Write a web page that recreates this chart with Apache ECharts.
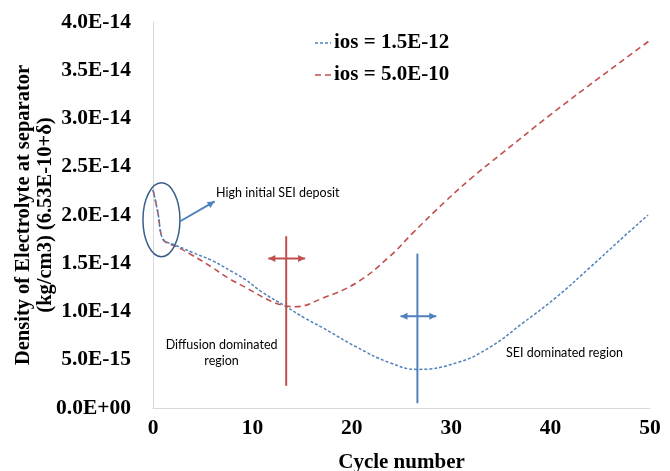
<!DOCTYPE html>
<html><head><meta charset="utf-8">
<script src="https://cdn.jsdelivr.net/npm/echarts@6/dist/echarts.min.js"></script>
<style>html,body{margin:0;padding:0;background:#fff}#c{width:670px;height:471px}</style>
</head><body><div id="c"></div>
<script>
// Density values are in units of 1E-15 kg/cm3
const cyclesBlue  = [0, 0.5, 0.9, 1.4, 2.2, 4, 5.9, 8, 9.3, 11, 13.4, 15.3, 17.1, 20.5, 23.8, 26.6, 30.6, 33.9, 37.2, 40.6, 44, 47.3, 49.8];
const densityBlue = [22.6, 20.2, 17.7, 17.2, 16.9, 16.1, 15.3, 14.1, 13.3, 12.0, 10.5, 9.3, 8.3, 6.3, 4.7, 4.0, 4.7, 6.3, 8.8, 11.5, 14.6, 17.7, 20.0];
const cyclesRed   = [0, 0.5, 0.9, 1.4, 2.2, 4, 5.9, 7.5, 9.3, 12, 13.3, 14.3, 17.1, 20.5, 23.8, 26.2, 29.4, 32, 35, 40, 45, 50];
const densityRed  = [22.6, 20.2, 17.7, 17.1, 16.8, 15.8, 14.6, 13.5, 12.5, 11.0, 10.6, 10.5, 11.4, 13.0, 15.7, 18.2, 21.4, 23.8, 26.3, 30.4, 34.3, 38.1];
const seriesNames = ['ios = 1.5E-12', 'ios = 5.0E-10'];
const yTickLabels = ['0.0E+00','5.0E-15','1.0E-14','1.5E-14','2.0E-14','2.5E-14','3.0E-14','3.5E-14','4.0E-14'];
const xTickLabels = ['0','10','20','30','40','50'];

const BLUE = '#4f81bd', RED = '#c0504d', AXIS = '#d9d9d9';
const chart = echarts.init(document.getElementById('c'), null, {renderer:'canvas'});
const boldSerif = {fontFamily:'Liberation Serif', fontWeight:'bold', color:'#000'};

chart.setOption({
  animation:false,
  backgroundColor:'#fff',
  grid:{left:153, right:20, top:22, bottom:63, containLabel:false, outerBoundsMode:'none'},
  xAxis:{
    type:'value', min:0, max:50, interval:10,
    axisLine:{show:true, lineStyle:{color:AXIS, width:1}},
    axisTick:{show:false}, splitLine:{show:false},
    axisLabel:Object.assign({fontSize:21.5, margin:9, formatter:v=>xTickLabels[Math.round(v/10)]}, boldSerif),
    name:'Cycle number', nameLocation:'middle', nameGap:44, nameMoveOverlap:false,
    nameTextStyle:Object.assign({fontSize:21}, boldSerif)
  },
  yAxis:{
    type:'value', min:0, max:40, interval:5,
    axisLine:{show:true, lineStyle:{color:AXIS, width:1}},
    axisTick:{show:false}, splitLine:{show:false},
    axisLabel:Object.assign({fontSize:21.5, margin:22, formatter:v=>yTickLabels[Math.round(v/5)]}, boldSerif),
    name:'Density of Electrolyte at separator\n(kg/cm3) (6.53E-10+δ)', nameLocation:'middle', nameGap:96, nameMoveOverlap:false,
    nameTextStyle:Object.assign({fontSize:20.5, lineHeight:22}, boldSerif)
  },
  series:[
    {name:seriesNames[0], type:'line', smooth:0.45, showSymbol:false,
     data:cyclesBlue.map((c,i)=>[c, densityBlue[i]]),
     lineStyle:{color:BLUE, width:1.5, type:[3,2]}, itemStyle:{color:BLUE}, z:3},
    {name:seriesNames[1], type:'line', smooth:0.45, showSymbol:false,
     data:cyclesRed.map((c,i)=>[c, densityRed[i]]),
     lineStyle:{color:RED, width:1.6, type:[6,4]}, itemStyle:{color:RED}, z:2}
  ]
});

// Annotations anchored in data coordinates
const P = (x,y) => chart.convertToPixel({gridIndex:0},[x,y]);
function head(tip, from, color){
  const dx = tip[0]-from[0], dy = tip[1]-from[1], L = Math.hypot(dx,dy);
  const ux = dx/L, uy = dy/L, len = 7, hw = 3.5;
  const bx = tip[0]-ux*len, by = tip[1]-uy*len;
  return {type:'polygon', shape:{points:[tip,[bx-uy*hw, by+ux*hw],[bx+uy*hw, by-ux*hw]]}, style:{fill:color}, z:10};
}
function arrow(a, b, color, both){
  const els = [{type:'line', shape:{x1:a[0],y1:a[1],x2:b[0],y2:b[1]}, style:{stroke:color, lineWidth:2}, z:10}, head(b,a,color)];
  if (both) els.push(head(a,b,color));
  return els;
}
const els = [];
{
  const t = P(13.4, 17.8), btm = P(13.4, 2.3);
  els.push({type:'line', shape:{x1:t[0],y1:t[1],x2:btm[0],y2:btm[1]}, style:{stroke:RED, lineWidth:2}, z:10});
  els.push(...arrow(P(11.6,15.5), P(15.3,15.5), RED, true));
}
{
  const t = P(26.6, 16.0), btm = P(26.6, 0.5);
  els.push({type:'line', shape:{x1:t[0],y1:t[1],x2:btm[0],y2:btm[1]}, style:{stroke:BLUE, lineWidth:2}, z:10});
  els.push(...arrow(P(24.9,9.5), P(28.5,9.5), BLUE, true));
}
{
  const c = P(0.85, 19.5), e = P(0.85+1.86, 19.5+3.83);
  els.push({type:'ellipse', shape:{cx:c[0], cy:c[1], rx:e[0]-c[0], ry:c[1]-e[1]}, style:{fill:'none', stroke:'#385d8a', lineWidth:1.5}, z:10});
  els.push(...arrow(P(2.65,19.3), P(6.2,21.4), BLUE, false));
}
const noteFont = {fontFamily:'Lato', fontSize:12.5, fill:'#000'};
const tHigh = P(6.35, 22.3);
els.push({type:'text', x:tHigh[0], y:tHigh[1], style:Object.assign({text:'High initial SEI deposit', align:'left', verticalAlign:'middle'}, noteFont), z:10});
const tDiff = P(6.9, 5.7);
els.push({type:'text', x:tDiff[0], y:tDiff[1], style:Object.assign({text:'Diffusion dominated\nregion', align:'center', verticalAlign:'middle', lineHeight:16}, noteFont), z:10});
const tSei = P(41.4, 5.7);
els.push({type:'text', x:tSei[0], y:tSei[1], style:Object.assign({text:'SEI dominated region', align:'center', verticalAlign:'middle'}, noteFont), z:10});
// legend keys
const legRows = [[seriesNames[0], BLUE, [3,2]], [seriesNames[1], RED, [6,4]]];
legRows.forEach((r,i)=>{
  const y = 43 + i*32;
  els.push({type:'line', shape:{x1:315,y1:y,x2:331,y2:y}, style:{stroke:r[1], lineWidth:1.5, lineDash:r[2]}, z:10});
  els.push({type:'text', x:334, y:y, style:{text:r[0], fontFamily:'Liberation Serif', fontWeight:'bold', fontSize:21, fill:'#000', verticalAlign:'middle'}, z:10});
});
chart.setOption({graphic:{elements:els}});
</script></body></html>
